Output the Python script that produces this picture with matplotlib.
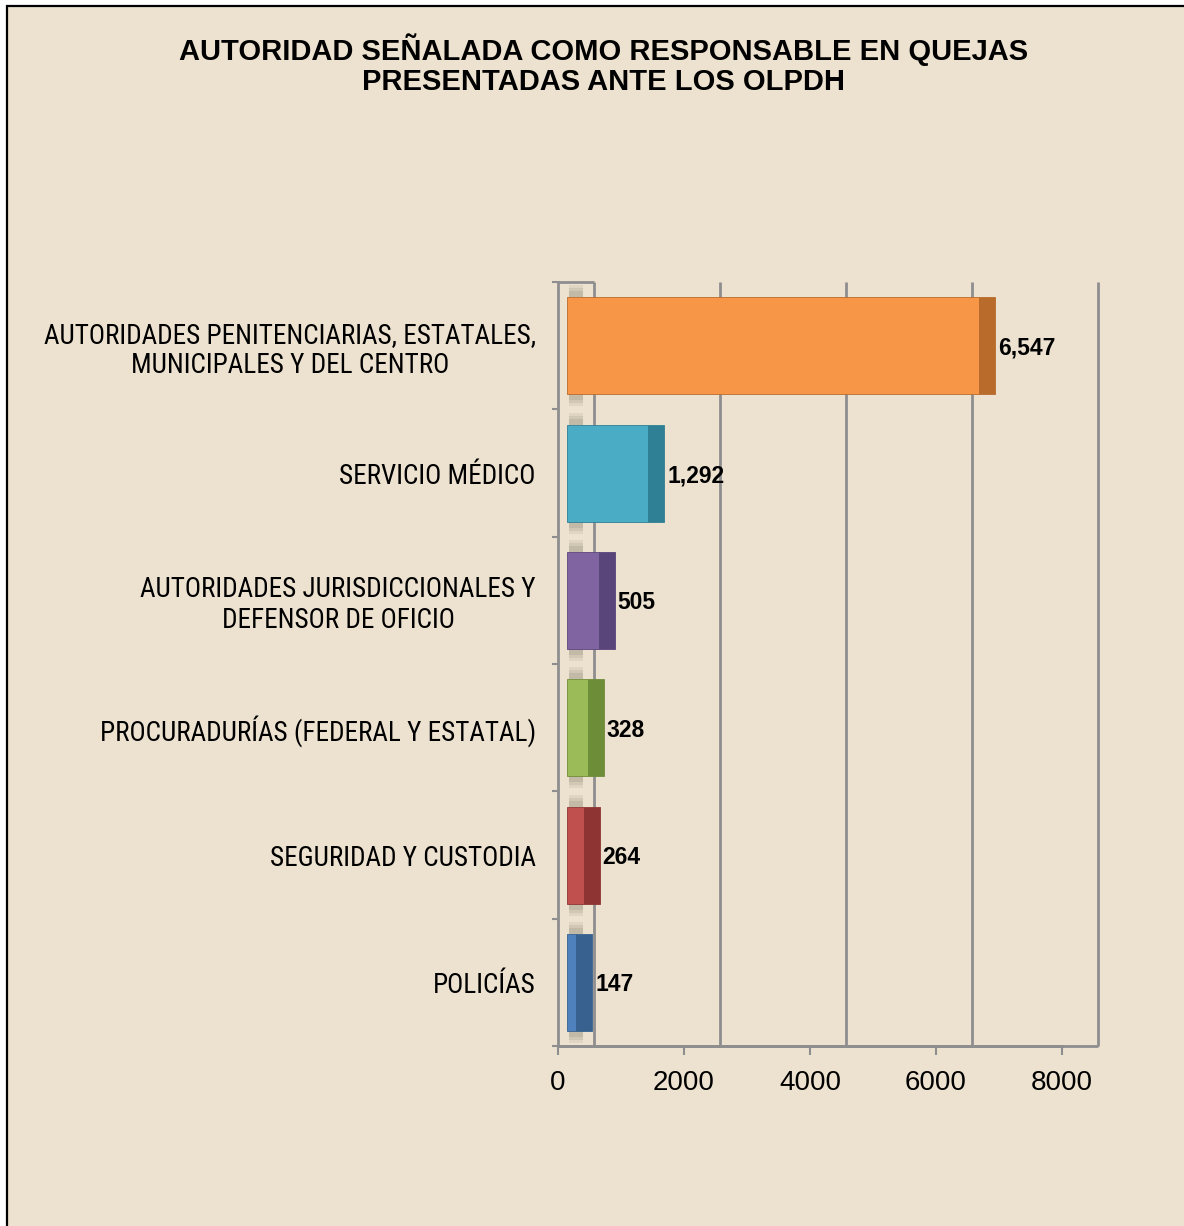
import matplotlib
matplotlib.use("Agg")
import matplotlib.pyplot as plt
from matplotlib import font_manager as fm
from matplotlib.patches import Rectangle
from matplotlib.transforms import offset_copy

# ---- data (top to bottom) ----
categories = [
    "AUTORIDADES PENITENCIARIAS, ESTATALES,\nMUNICIPALES Y DEL CENTRO",
    "SERVICIO MÉDICO",
    "AUTORIDADES JURISDICCIONALES Y\nDEFENSOR DE OFICIO",
    "PROCURADURÍAS (FEDERAL Y ESTATAL)",
    "SEGURIDAD Y CUSTODIA",
    "POLICÍAS",
]
values = [6547, 1292, 505, 328, 264, 147]
face_colors = ["#F79646", "#4BACC6", "#8064A2", "#9BBB59", "#C0504D", "#4F81BD"]
side_colors = ["#B96B2C", "#2F7F95", "#5A457B", "#6E8D38", "#8E3533", "#38618F"]
x_ticks = [0, 2000, 4000, 6000, 8000]
title = "AUTORIDAD SEÑALADA COMO RESPONSABLE EN QUEJAS\nPRESENTADAS ANTE LOS OLPDH"

BG = "#EDE2D0"
GRID = "#8E8E8E"
W, H = 1184, 1226
DPI = 100

# find a narrow / condensed regular font for the category labels
prefs = ["liberation sans narrow", "arial narrow", "roboto condensed",
         "dejavu sans condensed", "open sans condensed", "noto sans condensed"]
cands = []
for f in fm.fontManager.ttflist:
    nm = f.name.lower()
    fnl = f.fname.lower()
    is_narrow = ("narrow" in nm or "condensed" in nm or "narrow" in fnl or "condensed" in fnl
                 or f.stretch in ("condensed", "semi-condensed"))
    if is_narrow and f.style == "normal" and (f.weight in (400, "normal", "regular")) \
            and "bold" not in fnl and "oblique" not in fnl and "italic" not in fnl \
            and "semi" not in fnl and "light" not in fnl and "medium" not in fnl:
        cands.append(f)
def rank(f):
    key = (f.name + " " + f.fname).lower()
    for i, p in enumerate(prefs):
        if p.split()[0] in key:
            return i
    return len(prefs)
cands.sort(key=rank)
if cands:
    narrow_path = cands[0].fname
    label_fp = fm.FontProperties(fname=narrow_path, size=19.5)
    if "dejavu" in narrow_path.lower():
        label_fp.set_size(17)
else:
    label_fp = fm.FontProperties(family=["Liberation Sans", "DejaVu Sans"], size=15.8)

fig = plt.figure(figsize=(W / DPI, H / DPI), dpi=DPI, facecolor="white")
# chart frame (black border at top/left, white margin outside)
frame = Rectangle((7 / W, -0.05), 1.1, 1 - 6 / H + 0.05,
                  transform=fig.transFigure, facecolor=BG,
                  edgecolor="black", lw=1.6, zorder=-10)
fig.patches.append(frame)

fig.text(604 / W, 1 - 33 / H, title, ha="center", va="top",
         fontsize=21, fontweight="bold", family=["Liberation Sans", "DejaVu Sans"],
         linespacing=1.12, zorder=5)

ax_l, ax_r, ax_b, ax_t = 558, 1062, 1046, 282
ax = fig.add_axes([ax_l / W, 1 - ax_b / H, (ax_r - ax_l) / W, (ax_b - ax_t) / H], zorder=2)
ax.set_facecolor("none")
ax.set_xlim(x_ticks[0], x_ticks[-1])
n = len(categories)
ax.set_ylim(-0.5, n - 0.5)
ypos = [n - 1 - i for i in range(n)]

units_per_px = (x_ticks[-1] - x_ticks[0]) / (ax_r - ax_l)
slot_px = (ax_b - ax_t) / n

# back wall gridlines (3D depth offset)
depth_px = 35.5
grid_tr = offset_copy(ax.get_xaxis_transform(), fig=fig, x=depth_px, y=0, units="dots")
ax.vlines(x_ticks, 0, 1, transform=grid_tr, colors=GRID, lw=2.0, zorder=1, clip_on=False)
xa_tr = ax.get_xaxis_transform()
# top edge of side wall
ax.hlines([1.0], x_ticks[0], x_ticks[0] + depth_px * units_per_px, transform=xa_tr,
          colors=GRID, lw=2.0, clip_on=False, zorder=1)
# floor back line
ax.hlines([0.0], x_ticks[0], x_ticks[-1] + depth_px * units_per_px, transform=xa_tr,
          colors=GRID, lw=2.0, clip_on=False, zorder=1)

# bars
bar_tr = offset_copy(ax.transData, fig=fig, x=9, y=0, units="dots")
bar_h = 97 / slot_px
strip_units = 16 * units_per_px
shadow_w = 18 * units_per_px
for y, v, fc, sc in zip(ypos, values, face_colors, side_colors):
    # soft shadows on side wall
    for k, a in enumerate([0.10, 0.12, 0.14]):
        hh = (12 - 3 * k) / slot_px
        ax.add_patch(Rectangle((2 * units_per_px, y + bar_h / 2), shadow_w - 4 * units_per_px, hh,
                               transform=bar_tr, facecolor="#6E6656", alpha=a, lw=0, zorder=2))
        ax.add_patch(Rectangle((2 * units_per_px, y - bar_h / 2 - hh), shadow_w - 4 * units_per_px, hh,
                               transform=bar_tr, facecolor="#6E6656", alpha=a, lw=0, zorder=2))
    ax.barh(y, v, height=bar_h, left=0, color=fc, edgecolor=sc, linewidth=0.6,
            transform=bar_tr, zorder=3)
    ax.barh(y, strip_units, height=bar_h, left=v, color=sc, edgecolor=sc, linewidth=0.6,
            transform=bar_tr, zorder=3)
    ax.text(v + strip_units + 3 * units_per_px, y - 0.02, f"{v:,}", transform=bar_tr,
            ha="left", va="center", fontsize=16.5, fontweight="bold",
            family=["Liberation Sans", "DejaVu Sans"], zorder=4)

# axes styling
for s in ["top", "right"]:
    ax.spines[s].set_visible(False)
for s in ["left", "bottom"]:
    ax.spines[s].set_color(GRID)
    ax.spines[s].set_linewidth(2.0)

ax.set_xticks(x_ticks)
ax.set_xticklabels([str(t) for t in x_ticks])
ax.tick_params(axis="x", length=6.5, width=1.5, color=GRID, pad=11, labelsize=20)
for lab in ax.get_xticklabels():
    lab.set_family(["Liberation Sans", "DejaVu Sans"])

# category labels at centers, tick marks at boundaries
ax.set_yticks(ypos)
ax.set_yticklabels(categories)
ax.tick_params(axis="y", which="major", length=0, pad=16)
ax.set_yticks([i - 0.5 for i in range(n + 1)], minor=True)
ax.tick_params(axis="y", which="minor", length=4.5, width=1.5, color=GRID)
for lab in ax.get_yticklabels():
    lab.set_fontproperties(label_fp)
    lab.set_multialignment("center")
    lab.set_linespacing(1.17)

fig.savefig("out.png", dpi=DPI, facecolor="white")
